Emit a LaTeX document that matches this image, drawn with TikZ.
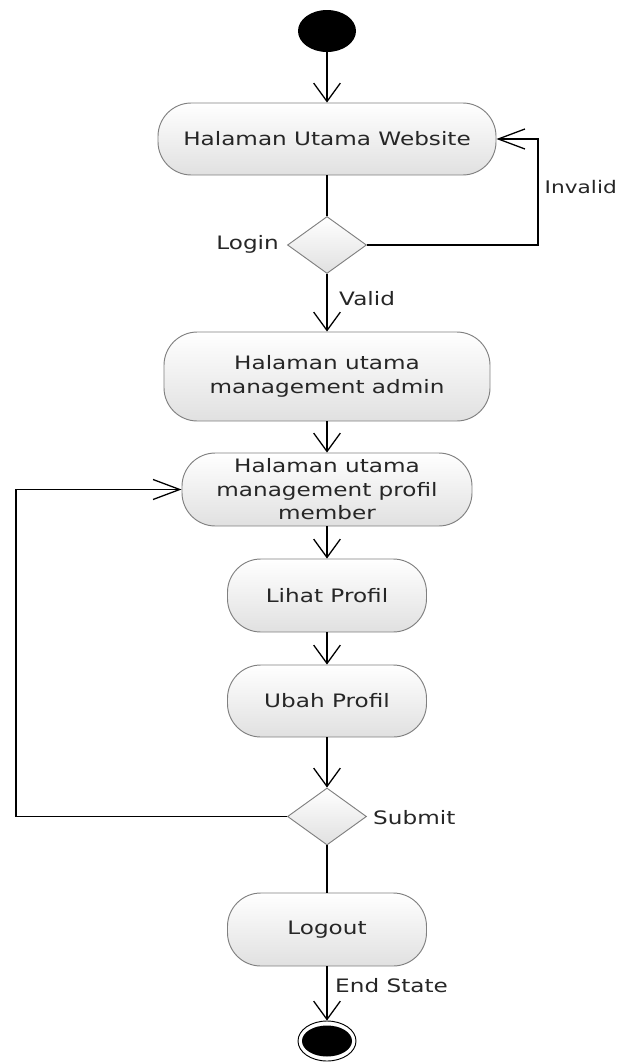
\documentclass[tikz,border=0pt]{standalone}
\usepackage{fontspec}
\setmainfont{DejaVu Sans}[FakeStretch=1.25]
\usetikzlibrary{shapes.geometric,arrows.meta}
\tikzset{
  act/.style={draw=black!50, line width=0.8pt, rounded corners=1cm, top color=white, bottom color=black!12, align=center, inner sep=0pt, text=black!85},
  decide/.style={diamond, draw=black!50, line width=0.8pt, top color=white, bottom color=black!12, inner sep=0pt, minimum width=2.37cm, minimum height=1.71cm},
  flow/.style={line width=1.1pt, -{Straight Barb[length=0.55cm,width=0.8cm]}},
  flowh/.style={line width=1.1pt, -{Straight Barb[length=0.8cm,width=0.6cm]}},
  link/.style={line width=1.1pt},
  lbl/.style={inner sep=0pt, text=black!85},
}
\begin{document}
\begin{tikzpicture}[x=0.03cm, y=-0.03cm, font=\fontsize{15.8}{20}\selectfont]
\useasboundingbox (0,0) rectangle (619,1062);
\node[ellipse, fill=black, minimum width=1.74cm, minimum height=1.26cm, inner sep=0pt] (start) at (327,31) {};
\node[act, minimum width=10.14cm, minimum height=2.16cm] (web) at (327,139) {Halaman Utama Website};
\node[decide] (login) at (327,245) {};
\node[act, minimum width=9.78cm, minimum height=2.67cm] (admin) at (327,376.5) {Halaman utama\\management admin};
\node[act, minimum width=8.7cm, minimum height=2.19cm] (member) at (327,489.5) {Halaman utama\\management profil\\member};
\node[act, minimum width=5.97cm, minimum height=2.19cm] (lihat) at (327,595.5) {Lihat Profil};
\node[act, minimum width=5.97cm, minimum height=2.16cm] (ubah) at (327,701) {Ubah Profil};
\node[decide] (submit) at (327,816.5) {};
\node[act, minimum width=5.97cm, minimum height=2.19cm] (logout) at (327,929.5) {Logout};
\node[ellipse, draw, fill=white, line width=0.8pt, minimum width=1.74cm, minimum height=1.2cm, inner sep=0pt] (end) at (327,1041) {};
\node[ellipse, fill=black, minimum width=1.5cm, minimum height=0.93cm, inner sep=0pt] (endin) at (end.center) {};
\node[lbl, anchor=east] (loginlbl) at (279,244) {Login};
\node[lbl, anchor=east, font=\fontsize{14.8}{18}\selectfont] (invalidlbl) at (617,187) {Invalid};
\node[lbl, anchor=west] (validlbl) at (339,299) {Valid};
\node[lbl, anchor=west] (submitlbl) at (373,818) {Submit};
\node[lbl, anchor=west] (endlbl) at (335,986) {End State};
\coordinate (invc) at (538,245);
\coordinate (subc) at (16,816.5);
\draw[flow] (start) -- (web);
\draw[link] (web) -- (login);
\draw[flowh] (login.east) -- (invc) |- (web.east);
\draw[flow] (login) -- (admin);
\draw[flow] (admin) -- (member);
\draw[flow] (member) -- (lihat);
\draw[flow] (lihat) -- (ubah);
\draw[flow] (ubah) -- (submit);
\draw[flowh] (submit.west) -- (subc) |- (member.west);
\draw[link] (submit) -- (logout);
\draw[flow] (logout) -- (end);
\end{tikzpicture}
\end{document}
